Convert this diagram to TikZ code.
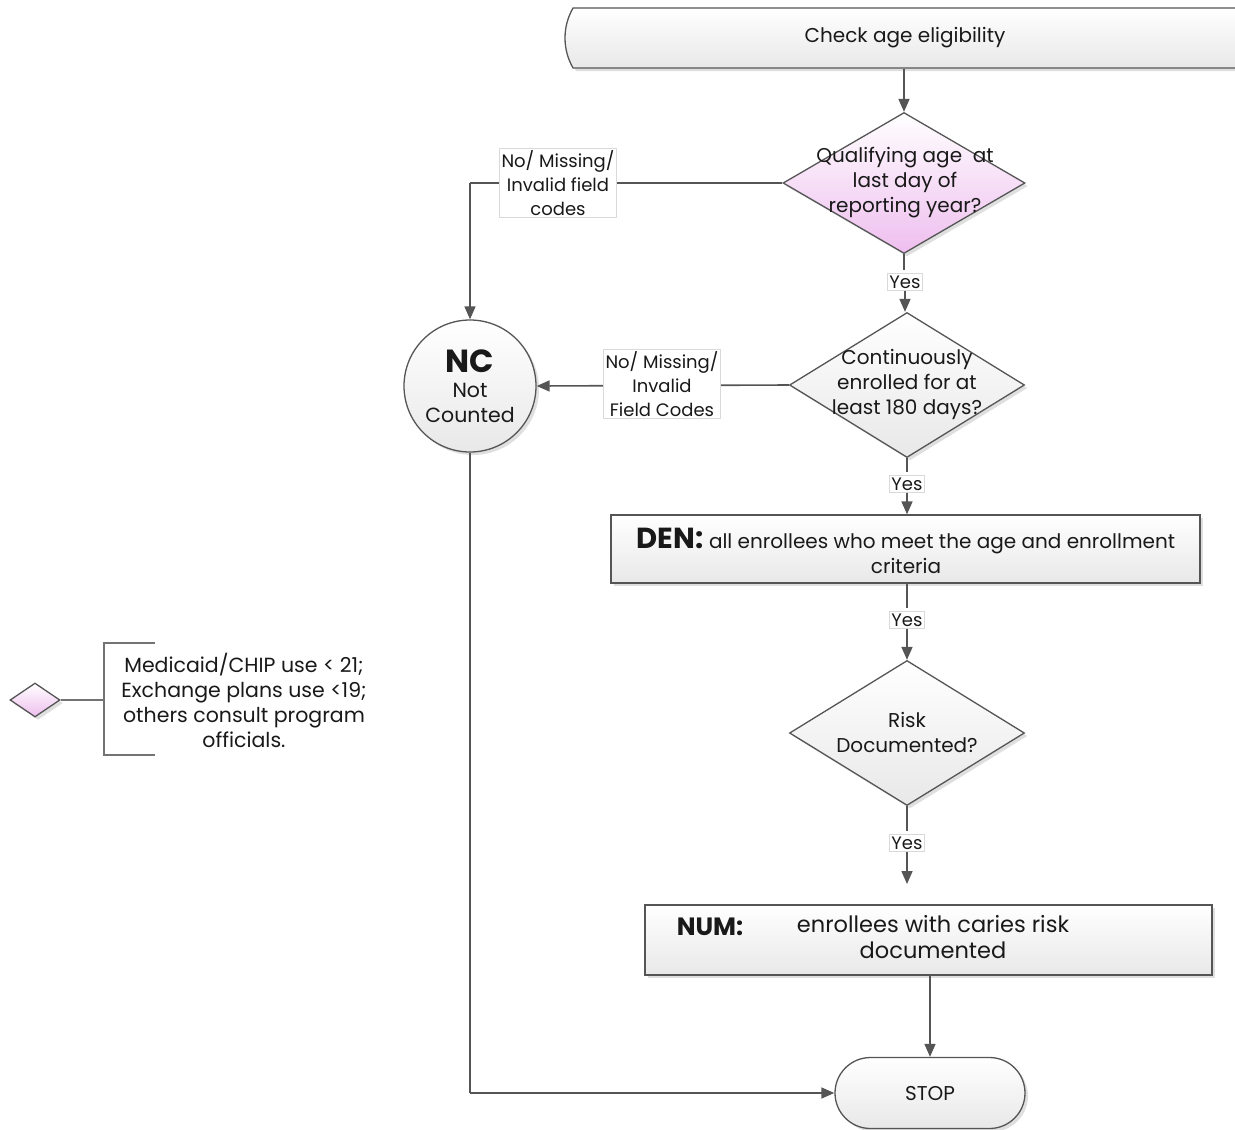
\documentclass[tikz,border=0pt]{standalone}
\usepackage{fontspec}
\setmainfont{Poppins}
\usetikzlibrary{shapes.geometric,shapes.misc,shadows,arrows.meta}
\definecolor{lnc}{RGB}{85,85,85}
\definecolor{pinkf}{RGB}{238,190,238}
\begin{document}
\begin{tikzpicture}[x=1pt,y=-1pt,
  conn/.style={draw=lnc, line width=1.6pt},
  arr/.style={conn, -{Triangle[length=13pt,width=11pt]}},
  shd/.style={drop shadow={opacity=0.25, shadow xshift=3pt, shadow yshift=-3pt}},
  boxst/.style={draw=lnc, line width=1.3pt, top color=white, bottom color=black!9, shd, inner sep=0pt},
  pinkd/.style={diamond, draw=lnc, line width=1.3pt, top color=white, bottom color=pinkf, shd, inner sep=0pt},
  grayd/.style={diamond, draw=lnc, line width=1.3pt, top color=white, bottom color=black!9, shd, inner sep=0pt},
  lbl/.style={fill=white, draw=black!15, line width=0.8pt, font=\fontsize{18}{24}\selectfont, align=center, inner sep=2pt},
  txt/.style={font=\fontsize{20}{25}\selectfont, align=center, inner sep=0pt},
  every node/.style={text=black!90}
]
\useasboundingbox (0,0) rectangle (1235,1130);

% top terminator (cut by the right edge)
\node[rounded rectangle, rounded rectangle arc length=60, boxst, minimum width=690pt, minimum height=60pt] (start) at (910,38) {};
\node[txt] (starttxt) at (905,38) {Check age eligibility};

% diamond 1
\node[pinkd, minimum width=242pt, minimum height=141pt] (d1) at (904,183) {};
\node[txt] (d1t) at (905,183) {Qualifying age\ \ at\\last day of\\reporting year?};

% diamond 2
\node[grayd, minimum width=235pt, minimum height=145pt] (d2) at (907,385) {};
\node[txt] (d2t) at (907,384) {Continuously\\enrolled for at\\least 180 days?};

% NC circle
\node[circle, boxst, minimum size=132pt] (nc) at (470,386) {};
\node[txt, font=\fontsize{20.5}{25}\selectfont] (nct) at (470,386) {{\fontsize{32}{33}\selectfont\bfseries NC}\\Not\\Counted};

% DEN box
\node[rectangle, boxst, minimum width=589pt, minimum height=68pt] (den) at (905.5,549) {};
\node[txt] (dent) at (906,551) {{\fontsize{29}{28}\selectfont\bfseries DEN:} all enrollees who meet the age and enrollment\\criteria};

% diamond 3
\node[grayd, minimum width=235pt, minimum height=145pt] (d3) at (907,733) {};
\node[txt] (d3t) at (907,732) {Risk\\Documented?};

% NUM box
\node[rectangle, boxst, minimum width=567pt, minimum height=70pt] (num) at (928.5,940) {};
\node[txt, font=\fontsize{25}{26}\selectfont\bfseries] (numl) at (710,927) {NUM:};
\node[txt, font=\fontsize{22.5}{26}\selectfont] (numt) at (933,937) {enrollees with caries risk\\documented};

% STOP
\node[rounded rectangle, boxst, minimum width=190pt, minimum height=71pt] (stop) at (930,1093) {};
\node[txt] (stopt) at (930,1093) {STOP};

% connectors
\draw[arr] (start.south -| 904,0) -- (d1.north);

\coordinate (c1) at (470,183);
\draw[conn] (d1.west) -- (c1);
\draw[arr] (c1) -- (nc.north);
\node[lbl] (l1) at (558,183) {No/ Missing/\\Invalid field\\codes};

\draw[conn] (d1.south) -- (904,270);
\node[lbl] (y1) at (905,282) {Yes};
\draw[arr] (y1.south -| 905,0) -- (d2.north -| 905,0);

\draw[arr] (d2.west) -- (nc.east);
\node[lbl] (l2) at (662,384) {No/ Missing/\\Invalid\\Field Codes};

\draw[conn] (d2.south) -- (907,472);
\node[lbl] (y2) at (907,484) {Yes};
\draw[arr] (y2.south) -- (den.north -| 907,0);

\draw[conn] (den.south -| 907,0) -- (907,608);
\node[lbl] (y3) at (907,620) {Yes};
\draw[arr] (y3.south) -- (d3.north);

\draw[conn] (d3.south) -- (907,831);
\node[lbl] (y4) at (907,843) {Yes};
\coordinate (e4) at (907,884);
\draw[arr] (y4.south) -- (e4);

\draw[arr] (num.south -| 930,0) -- (stop.north);

\coordinate (c2) at (470,1093);
\draw[conn] (nc.south) -- (c2);
\draw[arr] (c2) -- (stop.west);

% legend
\node[pinkd, minimum width=50pt, minimum height=34pt] (legd) at (35,700) {};
\coordinate (bm) at (104,700);
\coordinate (bt) at (104,643);
\coordinate (bb) at (104,755);
\coordinate (btr) at (155,643);
\coordinate (bbr) at (155,755);
\draw[conn, draw=black!55] (legd.east) -- (bm);
\draw[conn, draw=black!55, line width=1.3pt] (btr) -- (bt) -- (bb) -- (bbr);
\node[txt, font=\fontsize{20.5}{25}\selectfont] (legt) at (244,700) {Medicaid/CHIP use < 21;\\Exchange plans use <19;\\others consult program\\officials.};
\end{tikzpicture}
\end{document}
